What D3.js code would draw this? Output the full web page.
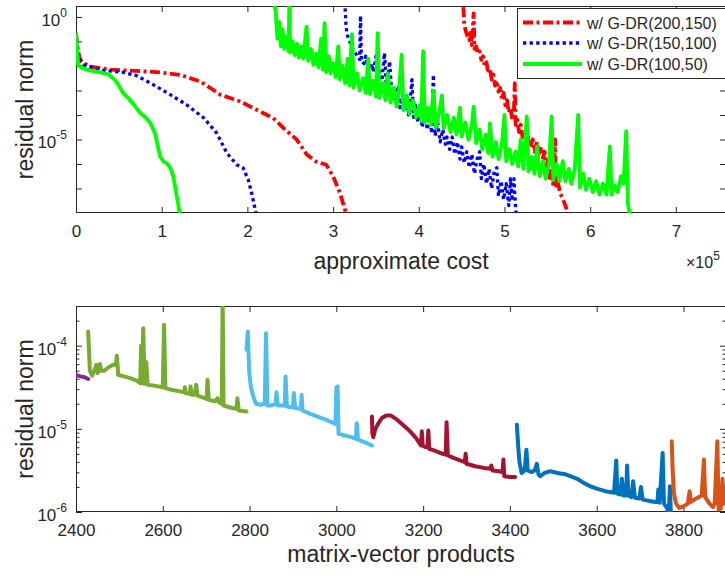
<!DOCTYPE html>
<html><head><meta charset="utf-8">
<script src="https://cdn.jsdelivr.net/npm/d3@7"></script>
<style>
body{margin:0;background:#fff;}
svg text{font-family:"Liberation Sans",Arial,Helvetica,sans-serif;fill:#262626;}
</style></head><body>
<svg id="chart" width="725" height="576"></svg>
<script>
// ---------------- DATA (top panel: cost in units of 1e5, residual norm) ----------------
const costTicks = [0,1,2,3,4,5,6,7];
const topDecadeTicks = [1e0,1e-1,1e-2,1e-3,1e-4,1e-5,1e-6,1e-7];
const topLabelled = [[1e0,"0"],[1e-5,"-5"]];
const legendLabels = ["w/ G-DR(200,150)","w/ G-DR(150,100)","w/ G-DR(100,50)"];
const topColors = ["#ff0000","#0000ff","#00ff00"];

const red200Smooth = [[0,2.24e-1],[0.02,5.0e-2],[0.05,1.58e-2],[0.16,9.55e-3],[0.4,7.08e-3],[0.7,6.31e-3],[0.98,5.5e-3],[1.21,4.37e-3],[1.45,2.34e-3],[1.6,1.07e-3],[1.68,6.76e-4],[1.8,4.9e-4],[1.91,3.63e-4],[2.03,2.24e-4],[2.17,1.26e-4],[2.3,7.59e-5],[2.42,2.95e-5],[2.575,1.0e-5],[2.69,2.51e-6],[2.8,1.26e-6],[2.92,9.33e-7],[3.0,3.16e-7],[3.08,6.61e-8],[3.15,1.0e-8]];
const blue150Smooth = [[0,2.24e-1],[0.02,3.16e-2],[0.085,1.12e-2],[0.32,6.61e-3],[0.55,5.5e-3],[0.71,3.98e-3],[0.9,1.74e-3],[1.1,6.76e-4],[1.29,2.63e-4],[1.49,7.59e-5],[1.64,1.86e-5],[1.76,2.82e-6],[1.875,9.33e-7],[1.95,6.92e-7],[2.01,2.29e-7],[2.05,6.31e-8],[2.1,1.0e-8]];
const green100Smooth = [[0,2.24e-1],[0.01,5.0e-2],[0.025,1.12e-2],[0.08,7.94e-3],[0.16,6.61e-3],[0.3,5.37e-3],[0.38,4.47e-3],[0.45,2.82e-3],[0.5,1.58e-3],[0.55,7.94e-4],[0.62,4.47e-4],[0.68,2.51e-4],[0.75,1.2e-4],[0.82,7.59e-5],[0.87,4.47e-5],[0.92,1.86e-5],[0.95,6.31e-6],[0.98,2.04e-6],[1.02,1.29e-6],[1.06,1.07e-6],[1.1,7.08e-7],[1.135,3.16e-7],[1.17,6.31e-8],[1.21,1.0e-8]];

const red200Noisy = [[4.52,2.51],[4.53,5.01e-1],[4.55,2.51e-1],[4.57,1.58e-1],[4.59,1.12e-1],[4.60,2.24e-1],[4.62,7.08e-2],[4.64,1.41],[4.65,5.01e-2],[4.67,6.31e-2],[4.69,3.16e-2],[4.71,3.98e-2],[4.73,1.78e-2],[4.75,2.51e-2],[4.77,1.0e-2],[4.79,1.41e-2],[4.81,5.01e-3],[4.83,7.94e-3],[4.85,2.82e-3],[4.87,4.47e-3],[4.89,1.58e-3],[4.91,2.51e-3],[4.93,8.91e-4],[4.95,1.26e-3],[4.97,4.47e-4],[4.99,7.94e-4],[5.01,2.51e-4],[5.03,3.98e-4],[5.05,1.26e-4],[5.07,2.0e-4],[5.09,6.31e-5],[5.11,1.26e-4],[5.12,2.0e-3],[5.13,3.98e-5],[5.15,6.31e-5],[5.17,2.0e-5],[5.19,3.98e-5],[5.21,1.26e-5],[5.23,2.0e-5],[5.26,7.08e-6],[5.28,1.26e-5],[5.30,5.01e-6],[5.33,1.0e-5],[5.35,3.16e-6],[5.38,7.94e-6],[5.40,2.51e-6],[5.43,5.01e-6],[5.45,1.78e-6],[5.47,3.16e-6],[5.49,7.94e-7],[5.51,1.58e-6],[5.53,2.0e-7],[5.55,5.01e-7],[5.57,1.26e-7],[5.59,1.0e-5],[5.60,1.0e-7],[5.62,2.0e-7],[5.65,6.31e-8],[5.68,3.98e-8],[5.71,2.0e-8],[5.75,7.94e-9]];
const blue150Noisy = [[3.14,2.24],[3.15,5.0e-1],[3.16,2.24e-1],[3.18,1.26e-1],[3.20,8.71e-2],[3.23,5.0e-2],[3.26,3.39e-2],[3.29,2.24e-2],[3.31,1.82e-2],[3.32,1.12],[3.33,1.58e-2],[3.36,1.26e-2],[3.38,2.51e-2],[3.40,1.0e-2],[3.43,7.08e-3],[3.45,1.26e-2],[3.47,5.62e-3],[3.50,2.51e-2],[3.51,3.98e-3],[3.54,6.31e-3],[3.57,2.51e-3],[3.60,3.39e-2],[3.62,2.0e-3],[3.64,3.98e-3],[3.66,1.55e-2],[3.68,1.26e-3],[3.70,5.01e-4],[3.72,1.26e-3],[3.74,3.16e-4],[3.76,1.26e-3],[3.78,2.0e-4],[3.81,6.31e-4],[3.83,1.58e-4],[3.86,5.01e-4],[3.88,1.0e-4],[3.90,3.98e-4],[3.92,2.75e-3],[3.94,7.94e-5],[3.96,2.51e-4],[3.99,5.01e-5],[4.01,2.0e-4],[4.04,3.16e-5],[4.07,1.26e-4],[4.10,2.51e-5],[4.13,1.0e-4],[4.15,1.78e-5],[4.17,4.37e-3],[4.19,1.41e-5],[4.22,5.01e-5],[4.25,7.94e-6],[4.28,2.51e-5],[4.31,6.31e-6],[4.33,1.26e-5],[4.36,3.98e-6],[4.39,1.26e-5],[4.42,2.51e-6],[4.45,7.94e-6],[4.48,1.58e-6],[4.50,5.01e-6],[4.53,1.12e-6],[4.56,3.16e-6],[4.59,7.08e-7],[4.62,2.51e-6],[4.65,3.98e-7],[4.68,1.58e-6],[4.71,3.16e-6],[4.73,2.51e-7],[4.76,1.0e-6],[4.79,1.58e-7],[4.82,6.31e-7],[4.85,1.0e-7],[4.88,5.01e-7],[4.91,7.08e-7],[4.93,5.01e-8],[4.96,2.0e-7],[4.99,3.55e-8],[5.02,1.58e-7],[5.05,2.0e-8],[5.07,2.51e-7],[5.09,3.16e-8],[5.11,2.51e-7],[5.13,1.58e-8],[5.14,6.31e-9]];
const green100Noisy = [[2.31,4],[2.33,1.6],[2.35,1.3e-1],[2.37,6.3e-1],[2.39,6.3e-2],[2.41,3.2e-1],[2.43,5e-2],[2.46,1.6e-1],[2.48,4e-2],[2.49,4],[2.50,3.5e-2],[2.53,1e-1],[2.55,2.8e-2],[2.58,7.9e-2],[2.60,2.2e-2],[2.63,6.3e-2],[2.65,2e-2],[2.69,4e-1],[2.71,1.6e-2],[2.74,5e-2],[2.77,1.1e-2],[2.80,3.2e-2],[2.83,8.9e-3],[2.86,1.3e-1],[2.88,7.1e-3],[2.90,5.6e-1],[2.92,5.6e-3],[2.95,2.5e-2],[2.97,5e-3],[3.00,1.3e-2],[3.03,3.5e-3],[3.06,6.3e-2],[3.08,2.8e-3],[3.11,1e-2],[3.14,2e-3],[3.17,2e-2],[3.19,1.6e-3],[3.22,2e-1],[3.24,1.3e-3],[3.28,5e-3],[3.31,1e-3],[3.35,3.2e-3],[3.38,7.9e-4],[3.41,2e-2],[3.43,7.1e-4],[3.47,2.5e-3],[3.50,5.6e-4],[3.52,2.2e-1],[3.54,5e-4],[3.58,2e-3],[3.61,4e-4],[3.64,5e-3],[3.67,3.2e-4],[3.71,1.3e-3],[3.74,2.2e-4],[3.77,1e-3],[3.80,2.9e-2],[3.82,1.6e-4],[3.86,6.3e-4],[3.89,1.1e-4],[3.93,4e-4],[3.97,7.9e-5],[4.01,2.5e-4],[4.03,5.6e-5],[4.05,4e-2],[4.07,5e-5],[4.11,2e-4],[4.14,4e-5],[4.17,1e-3],[4.20,3.2e-5],[4.24,1.3e-4],[4.27,6.3e-4],[4.29,2.8e-5],[4.33,1e-4],[4.37,2e-5],[4.41,7.9e-5],[4.44,1.6e-5],[4.48,2e-4],[4.50,1.3e-5],[4.54,5e-5],[4.58,1e-5],[4.62,4e-5],[4.64,2.2e-4],[4.67,7.1e-6],[4.71,2.5e-5],[4.74,4e-6],[4.78,1.6e-5],[4.81,2.8e-6],[4.83,4.5e-5],[4.86,2e-6],[4.90,7.9e-6],[4.93,1.6e-6],[4.97,6.3e-6],[5.00,1e-4],[5.02,1.3e-6],[5.06,4e-6],[5.09,1e-6],[5.13,3.2e-6],[5.16,7.9e-7],[5.19,1e-5],[5.22,6.3e-7],[5.26,8.7e-5],[5.28,5e-7],[5.32,2e-6],[5.35,4e-7],[5.38,5.2e-6],[5.41,3.2e-7],[5.45,1.3e-6],[5.48,2.5e-7],[5.52,1e-6],[5.55,8.7e-5],[5.57,2.2e-7],[5.61,1e-6],[5.64,2e-7],[5.68,1.3e-6],[5.71,2e-7],[5.75,6.3e-7],[5.78,1.6e-7],[5.82,6.3e-7],[5.86,1e-4],[5.88,1.1e-7],[5.92,4e-7],[5.95,8.9e-8],[5.99,2.5e-7],[6.03,7.1e-8],[6.07,2e-7],[6.11,5.6e-8],[6.15,1.6e-7],[6.19,5.6e-8],[6.23,5.2e-6],[6.25,5.6e-8],[6.29,1.3e-7],[6.32,7.1e-8],[6.36,3.2e-7],[6.39,1.6e-7],[6.42,2.2e-5],[6.44,2.5e-8],[6.47,6.3e-9]];

// ---------------- DATA (bottom panel: matrix-vector products, residual norm) ----------------
const mvTicks = [2400,2600,2800,3000,3200,3400,3600,3800];
const botMajor = [1e-6,1e-5,1e-4];
const botMinor = [2e-6,3e-6,4e-6,5e-6,6e-6,7e-6,8e-6,9e-6,2e-5,3e-5,4e-5,5e-5,6e-5,7e-5,8e-5,9e-5,2e-4,3e-4];
const botLabelled = [[1e-4,"-4"],[1e-5,"-5"],[1e-6,"-6"]];
const segColors = ["#7E2F8E","#77AC30","#4DBEEE","#A2142F","#0072BD","#D95319"];

const segPurple = [[2390,4.5e-5],[2400,4.47e-5],[2410,4.27e-5],[2420,4.17e-5],[2428,3.98e-5]];
const segGreen = [[2428,1.48e-4],[2432,5.0e-5],[2437,4.37e-5],[2442,5.0e-5],[2447,5.89e-5],[2450,4.68e-5],[2455,6.03e-5],[2458,5.0e-5],[2465,5.0e-5],[2475,5.5e-5],[2486,5.89e-5],[2492,5.89e-5],[2494,7.59e-5],[2496,5.75e-5],[2497,4.47e-5],[2510,4.27e-5],[2525,4.07e-5],[2540,3.8e-5],[2548,3.55e-5],[2550,1.0e-4],[2552,3.55e-5],[2555,1.62e-4],[2558,3.47e-5],[2562,6.31e-5],[2565,3.39e-5],[2580,3.31e-5],[2600,3.16e-5],[2603,1.78e-4],[2606,3.09e-5],[2620,2.95e-5],[2640,2.82e-5],[2650,2.75e-5],[2651,3.16e-5],[2653,2.69e-5],[2662,2.63e-5],[2664,3.24e-5],[2667,2.57e-5],[2674,2.57e-5],[2677,3.39e-5],[2680,2.51e-5],[2690,2.4e-5],[2701,2.29e-5],[2703,3.89e-5],[2706,2.24e-5],[2720,2.14e-5],[2726,2.34e-5],[2729,2.09e-5],[2736,2.0e-5],[2738,4.0e-4],[2740,1.91e-5],[2760,1.78e-5],[2770,1.74e-5],[2772,2.34e-5],[2775,1.66e-5],[2793,1.62e-5]];
const segLightBlue = [[2793,8.91e-5],[2796,1.48e-4],[2799,5.0e-5],[2803,3.16e-5],[2809,2.4e-5],[2815,2.0e-5],[2825,1.95e-5],[2835,2.0e-5],[2838,1.41e-4],[2841,1.91e-5],[2850,1.91e-5],[2860,2.0e-5],[2862,2.75e-5],[2865,1.91e-5],[2875,1.91e-5],[2881,1.91e-5],[2883,4.27e-5],[2886,1.86e-5],[2895,1.82e-5],[2900,1.82e-5],[2902,2.69e-5],[2905,1.78e-5],[2915,1.74e-5],[2918,1.74e-5],[2920,2.57e-5],[2922,1.66e-5],[2940,1.51e-5],[2960,1.38e-5],[2980,1.26e-5],[2998,1.15e-5],[3000,3.16e-5],[3003,3.24e-5],[3005,8.71e-6],[3020,8.32e-6],[3035,7.94e-6],[3045,7.59e-6],[3047,1.17e-5],[3050,7.41e-6],[3065,6.92e-6],[3082,6.31e-6]];
const segDarkRed = [[3082,1.41e-5],[3083,8.91e-6],[3085,7.94e-6],[3090,1.0e-5],[3097,1.17e-5],[3105,1.35e-5],[3115,1.45e-5],[3125,1.45e-5],[3140,1.29e-5],[3155,1.1e-5],[3170,9.33e-6],[3185,7.59e-6],[3195,6.31e-6],[3197,9.33e-6],[3199,6.31e-6],[3205,6.03e-6],[3210,6.03e-6],[3212,9.55e-6],[3214,5.75e-6],[3225,5.5e-6],[3235,5.25e-6],[3245,5.01e-6],[3252,4.9e-6],[3254,1.2e-5],[3257,4.79e-6],[3270,4.47e-6],[3285,4.17e-6],[3296,3.98e-6],[3298,5.01e-6],[3300,3.8e-6],[3320,3.55e-6],[3340,3.39e-6],[3355,3.31e-6],[3357,3.63e-6],[3360,3.16e-6],[3375,3.09e-6],[3383,3.02e-6],[3385,4.27e-6],[3387,2.69e-6],[3400,2.63e-6],[3412,2.63e-6]];
const segBlue = [[3416,1.12e-5],[3419,6.31e-6],[3422,3.98e-6],[3427,2.95e-6],[3434,3.16e-6],[3438,5.62e-6],[3441,3.16e-6],[3450,3.02e-6],[3457,3.16e-6],[3462,3.8e-6],[3466,2.82e-6],[3470,2.69e-6],[3480,2.95e-6],[3493,3.09e-6],[3510,2.95e-6],[3530,2.82e-6],[3545,2.63e-6],[3555,2.51e-6],[3570,2.24e-6],[3585,2.04e-6],[3600,1.91e-6],[3620,1.78e-6],[3640,1.7e-6],[3645,4.17e-6],[3648,1.66e-6],[3655,1.62e-6],[3658,2.51e-6],[3662,1.58e-6],[3668,1.58e-6],[3670,3.63e-6],[3673,1.58e-6],[3680,1.51e-6],[3684,2.34e-6],[3688,1.48e-6],[3698,1.45e-6],[3702,2.0e-6],[3706,1.41e-6],[3715,1.38e-6],[3725,1.35e-6],[3735,1.32e-6],[3740,1.32e-6],[3742,1.86e-6],[3745,1.29e-6],[3752,5.13e-6],[3755,1.26e-6],[3762,1.12e-6],[3766,9.55e-7],[3769,2.04e-6],[3771,8.91e-7]];
const segOrange = [[3773,7.08e-6],[3775,3.16e-6],[3778,1.66e-6],[3783,1.26e-6],[3790,1.12e-6],[3800,1.17e-6],[3810,1.26e-6],[3814,1.78e-6],[3817,1.32e-6],[3825,1.41e-6],[3835,1.51e-6],[3842,1.58e-6],[3847,4.27e-6],[3850,1.51e-6],[3860,1.26e-6],[3868,1.15e-6],[3872,1.26e-6],[3878,7.08e-6],[3881,1.07e-6],[3886,1.1e-6],[3890,2.51e-6],[3893,1.26e-6]];

// ---------------- DRAWING ----------------
const svg = d3.select("#chart");
const AX = "#262626";
const P1 = {l:76, t:6, r:726, b:213};
const P2 = {l:76, t:306, r:726, b:512};

const x1 = d3.scaleLinear().domain([0, 7.585]).range([P1.l, P1.r]);
const y1 = d3.scaleLog().domain([1e-8, 2.8]).range([P1.b, P1.t]);
const x2 = d3.scaleLinear().domain([2400, 3898]).range([P2.l, P2.r]);
const y2 = d3.scaleLog().domain([1e-6, 3e-4]).range([P2.b, P2.t]);

const defs = svg.append("defs");
defs.append("clipPath").attr("id","clip1").append("rect")
  .attr("x",P1.l).attr("y",P1.t).attr("width",P1.r-P1.l).attr("height",P1.b-P1.t);
defs.append("clipPath").attr("id","clip2").append("rect")
  .attr("x",P2.l).attr("y",P2.t).attr("width",P2.r-P2.l).attr("height",P2.b-P2.t);

function styleAxis(g){
  g.select(".domain").remove();
  g.selectAll(".tick line").attr("stroke",AX).attr("stroke-width",1);
  g.selectAll(".tick text").attr("fill",AX).attr("font-family","Liberation Sans, Arial, sans-serif").attr("font-size",17);
}

function frame(P, x, y, xt, major, minor){
  svg.append("g").attr("transform",`translate(0,${P.b})`)
    .call(d3.axisBottom(x).tickValues(xt).tickSize(-6).tickSizeOuter(0).tickPadding(12).tickFormat(d3.format("d")))
    .call(styleAxis);
  svg.append("g").attr("transform",`translate(0,${P.t})`)
    .call(d3.axisTop(x).tickValues(xt).tickSize(-6).tickSizeOuter(0).tickFormat(""))
    .call(styleAxis);
  svg.append("g").attr("transform",`translate(${P.l},0)`)
    .call(d3.axisLeft(y).tickValues(major).tickSize(-6).tickSizeOuter(0).tickFormat(""))
    .call(styleAxis);
  svg.append("g").attr("transform",`translate(${P.r},0)`)
    .call(d3.axisRight(y).tickValues(major).tickSize(-6).tickSizeOuter(0).tickFormat(""))
    .call(styleAxis);
  if (minor){
    svg.append("g").attr("transform",`translate(${P.l},0)`)
      .call(d3.axisLeft(y).tickValues(minor).tickSize(-3.5).tickSizeOuter(0).tickFormat(""))
      .call(styleAxis);
    svg.append("g").attr("transform",`translate(${P.r},0)`)
      .call(d3.axisRight(y).tickValues(minor).tickSize(-3.5).tickSizeOuter(0).tickFormat(""))
      .call(styleAxis);
  }
  svg.append("rect").attr("x",P.l+0.5).attr("y",P.t+0.5)
    .attr("width",P.r-P.l-1).attr("height",P.b-P.t-1)
    .attr("fill","none").attr("stroke",AX).attr("stroke-width",1);
}

function expLabels(y, list, xRight){
  list.forEach(([v, e]) => {
    const t = svg.append("text").attr("x",xRight).attr("y",y(v)+9)
      .attr("text-anchor","end").attr("font-size",17);
    t.append("tspan").text("10");
    t.append("tspan").attr("dy",-9).attr("font-size",12).text(e);
  });
}

// ---- top panel ----
frame(P1, x1, y1, costTicks, topDecadeTicks, null);
expLabels(y1, topLabelled, 67);

const line1 = d3.line().x(d=>x1(d[0])).y(d=>y1(d[1]));
const gTop = svg.append("g").attr("clip-path","url(#clip1)");
const topStyles = [
  {w:3.8, dash:"10,3.5,3,3.5", cap:"butt"},
  {w:3.3, dash:"3.3,3.3", cap:"butt"},
  {w:3.8, dash:null, cap:"butt"}
];
const topSeries = [[red200Smooth, red200Noisy],[blue150Smooth, blue150Noisy],[green100Smooth, green100Noisy]];
topSeries.forEach((pair, i) => {
  pair.forEach(data => {
    gTop.append("path").datum(data).attr("d", line1)
      .attr("fill","none").attr("stroke",topColors[i])
      .attr("stroke-width",topStyles[i].w)
      .attr("stroke-linejoin","round").attr("stroke-linecap",topStyles[i].cap)
      .attr("stroke-dasharray",topStyles[i].dash);
  });
});

// legend
const lg = svg.append("g");
lg.append("rect").attr("x",517.5).attr("y",8.5).attr("width",215).attr("height",70)
  .attr("fill","#fff").attr("stroke",AX).attr("stroke-width",1);
legendLabels.forEach((lab, i) => {
  const cy = [22.5, 43, 64][i];
  lg.append("line").attr("x1",523).attr("x2",582).attr("y1",cy).attr("y2",cy)
    .attr("stroke",topColors[i]).attr("stroke-width",topStyles[i].w)
    .attr("stroke-dasharray",topStyles[i].dash);
  lg.append("text").attr("x",587).attr("y",cy+6).attr("font-size",16).text(lab);
});

svg.append("text").attr("x",(P1.l+P1.r)/2).attr("y",269).attr("text-anchor","middle")
  .attr("font-size",23).text("approximate cost");
const ex = svg.append("text").attr("x",686).attr("y",268).attr("font-size",16);
ex.append("tspan").text("\u00d710");
ex.append("tspan").attr("dy",-8).attr("font-size",12).text("5");
svg.append("text").attr("transform",`translate(33,${(P1.t+P1.b)/2}) rotate(-90)`)
  .attr("text-anchor","middle").attr("font-size",23).text("residual norm");

// ---- bottom panel ----
frame(P2, x2, y2, mvTicks, botMajor, botMinor);
expLabels(y2, botLabelled, 67);
const line2 = d3.line().x(d=>x2(d[0])).y(d=>y2(d[1]));
const gBot = svg.append("g").attr("clip-path","url(#clip2)");
[segPurple, segGreen, segLightBlue, segDarkRed, segBlue, segOrange].forEach((data, i) => {
  gBot.append("path").datum(data).attr("d", line2)
    .attr("fill","none").attr("stroke",segColors[i]).attr("stroke-width",4)
    .attr("stroke-linejoin","round").attr("stroke-linecap","round");
});
svg.append("text").attr("x",(P2.l+P2.r)/2).attr("y",562).attr("text-anchor","middle")
  .attr("font-size",23).text("matrix-vector products");
svg.append("text").attr("transform",`translate(33,${(P2.t+P2.b)/2}) rotate(-90)`)
  .attr("text-anchor","middle").attr("font-size",23).text("residual norm");
</script>
</body></html>
